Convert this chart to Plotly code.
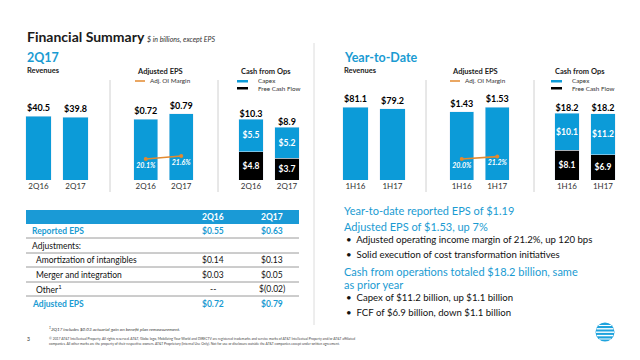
import plotly.graph_objects as go
import math

W, H = 640, 360
def X(px): return px / W
def Y(py): return 1 - py / H

# ---------------- data ----------------
periods_q = ["2Q16", "2Q17"]
periods_y = ["1H16", "1H17"]
rev_q = [40.5, 39.8]
rev_y = [81.1, 79.2]
eps_q = [0.72, 0.79]
eps_y = [1.43, 1.53]
margin_q = [20.1, 21.6]
margin_y = [20.0, 21.2]
capex_q = [5.5, 5.2]
fcf_q = [4.8, 3.7]
capex_y = [10.1, 11.2]
fcf_y = [8.1, 6.9]
cfo_q = [10.3, 8.9]
cfo_y = [18.2, 18.2]

table_cols = ["2Q16", "2Q17"]
table_rows = ["Reported EPS", "Adjustments:", "Amortization of intangibles",
              "Merger and integration", "Other<sup>1</sup>", "Adjusted EPS"]
table_2q16 = ["$0.55", "", "$0.14", "$0.03", "--", "$0.72"]
table_2q17 = ["$0.63", "", "$0.13", "$0.05", "$(0.02)", "$0.79"]

bullets = [
    ("h", "Year-to-date reported EPS of $1.19"),
    ("h", "Adjusted EPS of $1.53, up 7%"),
    ("b", "Adjusted operating income margin of 21.2%, up 120 bps"),
    ("b", "Solid execution of cost transformation initiatives"),
    ("h", "Cash from operations totaled $18.2 billion, same"),
    ("h", "as prior year"),
    ("b", "Capex of $11.2 billion, up $1.1 billion"),
    ("b", "FCF of $6.9 billion, down $1.1 billion"),
]

# ---------------- style ----------------
FONT = "Lato, Open Sans, sans-serif"
BLUE = "#0c9bd8"
TEAL = "#1a9bd2"
ORANGE = "#e38a2f"
BLACK = "#000000"
DARK = "#222222"

fig = go.Figure()

# panel domains in px (x0, x1), y ranges
panels = [
    (20, 94, 57.0),     # rev 2Q
    (128, 199, 1.07),   # eps 2Q
    (233, 305, 15.25),  # cash 2Q
    (337, 411, 100.0),  # rev YTD
    (444, 515, 1.89),   # eps YTD
    (549, 621, 24.6),   # cash YTD
]
PLOT_TOP, PLOT_BOT = 90, 180

layout_axes = {}
for i, (x0, x1, ymax) in enumerate(panels, start=1):
    sfx = "" if i == 1 else str(i)
    layout_axes["xaxis" + sfx] = dict(
        domain=[X(x0), X(x1)], anchor="y" + sfx, type="category",
        showgrid=False, zeroline=False, showline=False, ticks="",
        tickfont=dict(family=FONT, size=8, color="#333333"), fixedrange=True,
    )
    layout_axes["yaxis" + sfx] = dict(
        domain=[Y(PLOT_BOT), Y(PLOT_TOP)], anchor="x" + sfx, range=[0, ymax],
        visible=False, fixedrange=True,
    )
# margin axes
layout_axes["yaxis7"] = dict(overlaying="y2", anchor="x2", range=[9.6, 54.6], visible=False)
layout_axes["yaxis8"] = dict(overlaying="y5", anchor="x5", range=[9.5, 54.5], visible=False)

BAR_W = 0.68
lblfont = dict(family=FONT, size=9, color=BLACK, weight="bold")
infont = dict(family=FONT, size=8.5, color="white", weight="bold")

def simple_bars(xc, vals, ax, fmt):
    fig.add_trace(go.Bar(
        x=xc, y=vals, xaxis="x" + ax, yaxis="y" + ax, marker_color=BLUE,
        width=BAR_W, texttemplate=fmt, textposition="outside", textfont=lblfont,
        cliponaxis=False, showlegend=False, hoverinfo="skip"))

simple_bars(periods_q, rev_q, "", "$%{y:.1f}")
simple_bars(periods_q, eps_q, "2", "$%{y:.2f}")
simple_bars(periods_y, rev_y, "4", "$%{y:.1f}")
simple_bars(periods_y, eps_y, "5", "$%{y:.2f}")

def cash_bars(xc, fcf, capex, cfo, ax):
    fig.add_trace(go.Bar(
        x=xc, y=fcf, xaxis="x" + ax, yaxis="y" + ax, marker_color=BLACK,
        width=BAR_W, texttemplate="$%{y:.1f}", textposition="inside",
        insidetextanchor="middle", textangle=0, constraintext="none",
        textfont=infont, showlegend=False, hoverinfo="skip"))
    fig.add_trace(go.Bar(
        x=xc, y=capex, xaxis="x" + ax, yaxis="y" + ax, marker_color=BLUE,
        width=BAR_W, texttemplate="$%{y:.1f}", textposition="inside",
        insidetextanchor="middle", textangle=0, constraintext="none",
        textfont=infont, showlegend=False, hoverinfo="skip"))
    fig.add_trace(go.Scatter(
        x=xc, y=cfo, xaxis="x" + ax, yaxis="y" + ax, mode="text",
        text=["$%.1f" % v for v in cfo], textposition="top center",
        textfont=lblfont, cliponaxis=False, showlegend=False, hoverinfo="skip"))

cash_bars(periods_q, fcf_q, capex_q, cfo_q, "3")
cash_bars(periods_y, fcf_y, capex_y, cfo_y, "6")

def margin_line(xc, vals, xa, ya):
    fig.add_trace(go.Scatter(
        x=xc, y=vals, xaxis=xa, yaxis=ya, mode="lines+markers+text",
        line=dict(color=ORANGE, width=1.6), marker=dict(color=ORANGE, size=4),
        text=["%.1f%%" % v for v in vals], textposition="bottom center",
        textfont=dict(family=FONT, size=7, color="white", style="italic", weight="bold"),
        cliponaxis=False, showlegend=False, hoverinfo="skip"))

margin_line(periods_q, margin_q, "x2", "y7")
margin_line(periods_y, margin_y, "x5", "y8")

# ---------------- annotations & shapes ----------------
ann = []
shapes = []

def text(px, py, s, size, color=DARK, bold=False, italic=False, xanchor="left"):
    if not s:
        return
    f = dict(family=FONT, size=size, color=color)
    if bold:
        f["weight"] = "bold"
    if italic:
        f["style"] = "italic"
    ann.append(dict(x=X(px), y=Y(py), xref="paper", yref="paper", text=s,
                    showarrow=False, xanchor=xanchor, yanchor="middle", font=f))

def line(x0, y0, x1, y1, color, width=1):
    shapes.append(dict(type="line", xref="paper", yref="paper",
                       x0=X(x0), y0=Y(y0), x1=X(x1), y1=Y(y1),
                       line=dict(color=color, width=width)))

def rect(x0, y0, x1, y1, color):
    shapes.append(dict(type="rect", xref="paper", yref="paper",
                       x0=X(x0), y0=Y(y0), x1=X(x1), y1=Y(y1),
                       fillcolor=color, line=dict(width=0)))

text(25, 37, "Financial Summary", 14, "#1a1a1a", bold=True)
text(145, 39, "$ in billions, except EPS", 7, "#333333", italic=True)

for off, head in ((0, "2Q17"), (317, "Year-to-Date")):
    text(25 + off, 57, head, 12.5, TEAL, bold=True)
    text(25 + off, 71, "Revenues", 7.5, DARK, bold=True)

# sub-headers and mini legends
for (ex, cx) in ((135, 239), (450, 553)):
    text(ex, 72, "Adjusted EPS", 7.5, DARK, bold=True)
    line(ex, 81, ex + 10, 81, ORANGE, 1.5)
    text(ex + 13, 81, "Adj. OI Margin", 6.3, "#333333")
    text(cx, 72, "Cash from Ops", 7.5, DARK, bold=True)
    rect(cx - 2, 80, cx + 9, 82.5, BLUE)
    text(cx + 17, 81, "Capex", 6.3, "#333333")
    rect(cx - 2, 87, cx + 9, 89.5, BLACK)
    text(cx + 17, 88.5, "Free Cash Flow", 6.3, "#333333")

# dividers
for dx in (110, 218, 426, 534):
    line(dx, 80, dx, 192, "#d0d0d0", 1)
line(314, 43, 314, 325, "#dcdcdc", 1)

# table
rect(26, 210, 299, 224, "#1a9ad6")
col_x = [213, 272]
for cx, c in zip(col_x, table_cols):
    text(cx, 217, c, 8.5, "white", bold=True, xanchor="center")
row_y = [231, 246, 260, 275, 289, 304]
for i, (lab, a, b) in enumerate(zip(table_rows, table_2q16, table_2q17)):
    ry = row_y[i]
    hl = i in (0, len(table_rows) - 1)
    col = TEAL if hl else "#111111"
    lx = 30 if (hl or i == 1) else 34
    text(lx, ry, lab, 8.5, col, bold=hl)
    text(col_x[0], ry, a, 8.5, col, bold=hl, xanchor="center")
    text(col_x[1], ry, b, 8.5, col, bold=hl, xanchor="center")
    if i < len(table_rows) - 1:
        line(26, ry + 7, 299, ry + 7, "#9a9a9a", 1)

# footnotes
text(47, 329, "<sup>1</sup>2Q17 includes $0.03 actuarial gain on benefit plan remeasurement.", 4.6, "#333333", italic=True)
text(25, 339, "3", 5, "#333333")
text(47, 338.5, "© 2017 AT&T Intellectual Property. All rights reserved. AT&T, Globe logo, Mobilizing Your World and DIRECTV are registered trademarks and service marks of AT&T Intellectual Property and/or AT&T affiliated", 3.4, "#444444")
text(47, 343.5, "companies. All other marks are the property of their respective owners. AT&T Proprietary (Internal Use Only). Not for use or disclosure outside the AT&T companies except under written agreement.", 3.4, "#444444")

# right-hand commentary
by = [210, 226, 239.5, 254, 271, 284, 297, 312]
for (kind, s), yy in zip(bullets, by):
    if kind == "h":
        text(342, yy, s, 11, TEAL)
    else:
        text(344, yy, "•\u00a0\u00a0" + s, 9.6, "#111111")

# AT&T globe logo
lx, ly, r = 605, 332, 9.5
shapes.append(dict(type="circle", xref="paper", yref="paper",
                   x0=X(lx - r), x1=X(lx + r), y0=Y(ly + r), y1=Y(ly - r),
                   fillcolor="#1fa3dd", line=dict(width=0)))
for dy in (-6.5, -3.2, 0.2, 3.6, 7.0):
    hw = math.sqrt(max(r * r - dy * dy, 0))
    line(lx - hw + 0.5, ly + dy, lx + hw - 0.5, ly + dy, "white", 1.4 if abs(dy) < 5 else 1)

fig.update_layout(
    width=W, height=H, margin=dict(l=0, r=0, t=0, b=0),
    paper_bgcolor="white", plot_bgcolor="rgba(0,0,0,0)",
    barmode="stack", showlegend=False,
    annotations=ann, shapes=shapes, **layout_axes,
)

fig.write_html("out.html", config={"displayModeBar": False},
               post_script="document.body.style.margin='0px';")
